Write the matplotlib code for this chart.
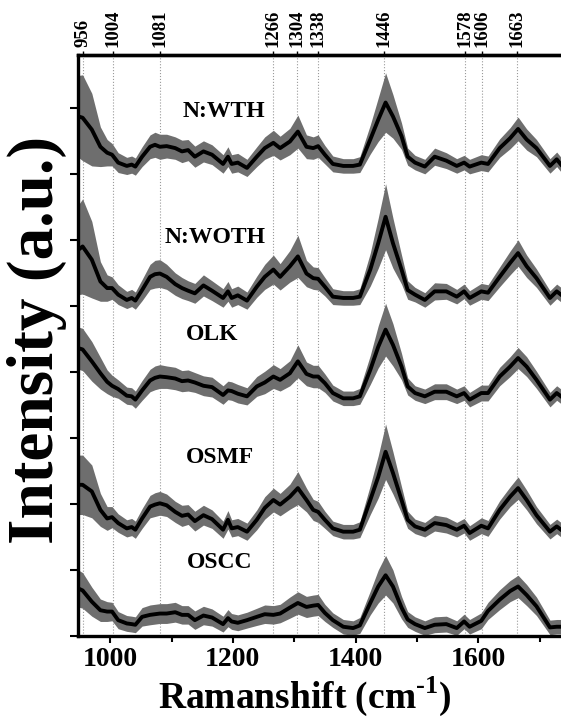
import numpy as np
import matplotlib
matplotlib.use("Agg")
import matplotlib.pyplot as plt

plt.rcParams['font.family'] = ['Liberation Serif', 'DejaVu Serif']
plt.rcParams['font.weight'] = 'bold'
plt.rcParams['mathtext.fontset'] = 'custom'
plt.rcParams['mathtext.rm'] = 'Liberation Serif:bold'
plt.rcParams['mathtext.bf'] = 'Liberation Serif:bold'

# Raman shift grid (cm-1)
shift = [948, 955, 970, 984, 995, 1003, 1013, 1027, 1035, 1041, 1052, 1065, 1073, 1081,
         1092, 1106, 1117, 1127, 1138, 1152, 1166, 1184, 1192, 1198, 1208, 1223, 1239,
         1252, 1266, 1277, 1293, 1306, 1320, 1331, 1339, 1350, 1363, 1380, 1396, 1407,
         1424, 1437, 1449, 1461, 1475, 1485, 1497, 1513, 1529, 1548, 1565, 1577, 1586,
         1605, 1616, 1635, 1652, 1665, 1679, 1695, 1717, 1728, 1735]

# mean spectra (already offset for stacking)
wth = [7.87, 7.85, 7.67, 7.41, 7.32, 7.29, 7.17, 7.12, 7.14, 7.11, 7.26, 7.41, 7.44, 7.41,
       7.42, 7.39, 7.34, 7.36, 7.26, 7.34, 7.29, 7.15, 7.26, 7.15, 7.17, 7.09, 7.26, 7.39,
       7.47, 7.39, 7.49, 7.64, 7.41, 7.39, 7.42, 7.29, 7.15, 7.12, 7.12, 7.14, 7.52, 7.82,
       8.08, 7.87, 7.57, 7.26, 7.17, 7.11, 7.26, 7.20, 7.12, 7.17, 7.11, 7.17, 7.15, 7.39,
       7.54, 7.68, 7.52, 7.39, 7.12, 7.22, 7.14]
woth = [5.85, 5.90, 5.70, 5.37, 5.27, 5.27, 5.17, 5.09, 5.12, 5.08, 5.24, 5.44, 5.48, 5.49,
        5.44, 5.33, 5.27, 5.23, 5.19, 5.31, 5.23, 5.12, 5.22, 5.12, 5.16, 5.08, 5.29, 5.44,
        5.55, 5.44, 5.60, 5.75, 5.49, 5.42, 5.41, 5.29, 5.14, 5.12, 5.12, 5.14, 5.55, 5.95,
        6.35, 5.95, 5.55, 5.24, 5.17, 5.09, 5.22, 5.22, 5.14, 5.22, 5.12, 5.22, 5.20, 5.44,
        5.65, 5.80, 5.60, 5.42, 5.12, 5.22, 5.17]
olk = [4.36, 4.34, 4.16, 3.98, 3.85, 3.79, 3.74, 3.64, 3.63, 3.58, 3.72, 3.87, 3.91, 3.93,
       3.92, 3.90, 3.86, 3.87, 3.84, 3.79, 3.77, 3.65, 3.72, 3.71, 3.67, 3.63, 3.78, 3.84,
       3.93, 3.88, 3.98, 4.16, 3.97, 3.93, 3.93, 3.83, 3.68, 3.60, 3.60, 3.63, 4.03, 4.38,
       4.64, 4.41, 4.08, 3.78, 3.68, 3.63, 3.70, 3.70, 3.63, 3.68, 3.58, 3.68, 3.68, 3.93,
       4.08, 4.21, 4.08, 3.88, 3.58, 3.68, 3.63]
osmf = [2.29, 2.29, 2.19, 1.91, 1.78, 1.80, 1.71, 1.63, 1.65, 1.61, 1.78, 1.96, 1.99, 2.01,
        1.98, 1.88, 1.82, 1.84, 1.74, 1.83, 1.77, 1.61, 1.76, 1.63, 1.65, 1.58, 1.76, 1.94,
        2.06, 1.99, 2.11, 2.24, 2.06, 1.91, 1.88, 1.76, 1.63, 1.58, 1.58, 1.61, 2.06, 2.41,
        2.79, 2.47, 2.06, 1.76, 1.66, 1.61, 1.71, 1.68, 1.61, 1.67, 1.56, 1.67, 1.63, 1.91,
        2.11, 2.24, 2.06, 1.83, 1.58, 1.66, 1.61]
oscc = [0.72, 0.69, 0.52, 0.39, 0.37, 0.37, 0.24, 0.19, 0.18, 0.17, 0.29, 0.32, 0.33, 0.34,
        0.34, 0.36, 0.32, 0.32, 0.24, 0.31, 0.28, 0.18, 0.27, 0.22, 0.20, 0.24, 0.29, 0.33,
        0.32, 0.34, 0.43, 0.50, 0.44, 0.46, 0.47, 0.35, 0.24, 0.14, 0.12, 0.16, 0.50, 0.75,
        0.92, 0.75, 0.43, 0.25, 0.18, 0.12, 0.17, 0.18, 0.12, 0.22, 0.14, 0.23, 0.38, 0.55,
        0.68, 0.75, 0.62, 0.45, 0.13, 0.14, 0.14]

# standard deviations
sd_wth = [0.62, 0.65, 0.55, 0.30, 0.20, 0.17, 0.15, 0.13, 0.13, 0.13, 0.15, 0.18, 0.19, 0.19,
          0.18, 0.17, 0.17, 0.16, 0.16, 0.16, 0.15, 0.14, 0.15, 0.14, 0.14, 0.13, 0.15, 0.17,
          0.19, 0.18, 0.20, 0.25, 0.18, 0.17, 0.17, 0.14, 0.12, 0.11, 0.11, 0.12, 0.22, 0.33,
          0.45, 0.33, 0.20, 0.13, 0.11, 0.11, 0.13, 0.12, 0.11, 0.11, 0.11, 0.12, 0.12, 0.14,
          0.16, 0.18, 0.16, 0.13, 0.11, 0.11, 0.11]
sd_woth = [0.68, 0.72, 0.58, 0.30, 0.20, 0.17, 0.15, 0.13, 0.13, 0.13, 0.16, 0.19, 0.21, 0.21,
           0.19, 0.17, 0.16, 0.15, 0.15, 0.16, 0.15, 0.14, 0.15, 0.14, 0.14, 0.13, 0.16, 0.19,
           0.22, 0.20, 0.24, 0.32, 0.20, 0.17, 0.17, 0.14, 0.12, 0.11, 0.11, 0.12, 0.25, 0.38,
           0.50, 0.38, 0.22, 0.14, 0.11, 0.11, 0.13, 0.12, 0.11, 0.11, 0.11, 0.12, 0.12, 0.15,
           0.18, 0.20, 0.17, 0.14, 0.11, 0.11, 0.11]
sd_olk = [0.32, 0.32, 0.30, 0.24, 0.18, 0.16, 0.14, 0.13, 0.13, 0.13, 0.15, 0.17, 0.18, 0.18,
          0.17, 0.17, 0.16, 0.16, 0.15, 0.15, 0.15, 0.14, 0.14, 0.14, 0.14, 0.13, 0.15, 0.17,
          0.18, 0.17, 0.19, 0.25, 0.18, 0.17, 0.17, 0.14, 0.12, 0.11, 0.11, 0.12, 0.22, 0.32,
          0.40, 0.32, 0.20, 0.13, 0.11, 0.11, 0.12, 0.12, 0.11, 0.11, 0.11, 0.12, 0.12, 0.14,
          0.15, 0.16, 0.15, 0.13, 0.11, 0.11, 0.11]
sd_osmf = [0.45, 0.45, 0.40, 0.25, 0.18, 0.16, 0.14, 0.13, 0.13, 0.13, 0.15, 0.17, 0.18, 0.18,
           0.17, 0.16, 0.16, 0.15, 0.15, 0.15, 0.14, 0.13, 0.14, 0.13, 0.13, 0.13, 0.15, 0.17,
           0.18, 0.17, 0.19, 0.25, 0.18, 0.16, 0.16, 0.13, 0.11, 0.11, 0.11, 0.12, 0.22, 0.32,
           0.42, 0.32, 0.20, 0.13, 0.11, 0.11, 0.12, 0.12, 0.11, 0.11, 0.11, 0.12, 0.12, 0.14,
           0.15, 0.17, 0.15, 0.13, 0.11, 0.11, 0.11]
sd_oscc = [0.28, 0.27, 0.22, 0.17, 0.15, 0.14, 0.13, 0.12, 0.12, 0.12, 0.14, 0.15, 0.15, 0.15,
           0.15, 0.15, 0.14, 0.14, 0.14, 0.14, 0.13, 0.12, 0.13, 0.12, 0.12, 0.12, 0.13, 0.14,
           0.14, 0.14, 0.16, 0.17, 0.16, 0.16, 0.16, 0.13, 0.11, 0.11, 0.11, 0.12, 0.18, 0.25,
           0.30, 0.25, 0.17, 0.12, 0.11, 0.11, 0.12, 0.12, 0.11, 0.11, 0.11, 0.12, 0.13, 0.15,
           0.16, 0.17, 0.16, 0.14, 0.11, 0.11, 0.11]

groups = ['N:WTH', 'N:WOTH', 'OLK', 'OSMF', 'OSCC']
means = [wth, woth, olk, osmf, oscc]
sds = [sd_wth, sd_woth, sd_olk, sd_osmf, sd_oscc]
label_x = [1186, 1171, 1166, 1179, 1179]
label_y = [7.94, 6.03, 4.56, 2.71, 1.11]

peaks = [956, 1004, 1081, 1266, 1304, 1338, 1446, 1578, 1606, 1663]

fig = plt.figure(figsize=(5.61, 7.21), dpi=100)
ax = fig.add_axes([0.1396, 0.1179, 0.8604, 0.8058])

x = np.array(shift)
for name, m, s, lx, ly in zip(groups, means, sds, label_x, label_y):
    m = np.array(m)
    s = np.array(s)
    ax.fill_between(x, m - s, m + s, color='#6e6e6e', lw=0, zorder=2)
    ax.plot(x, m, color='black', lw=2.8, zorder=3)
    ax.text(lx, ly, name, ha='center', va='center', fontsize=17, fontweight='bold')

for p in peaks:
    ax.axvline(p, color='#9a9a9a', ls=':', lw=0.8, zorder=1)

ax.set_xlim(948, 1735)
ax.set_ylim(0, 8.8)
ax.set_yticks(range(0, 9))
ax.set_yticklabels([])
ax.set_xticks([1000, 1200, 1400, 1600])
ax.set_xticks([1100, 1300, 1500, 1700], minor=True)
ax.tick_params(axis='x', which='major', direction='out', length=5, width=1.5, labelsize=20, pad=3)
ax.tick_params(axis='x', which='minor', direction='out', length=4, width=1.5)
ax.tick_params(axis='y', direction='out', length=6, width=1.5)
for side in ['left', 'bottom', 'top']:
    ax.spines[side].set_linewidth(2.4)
ax.spines['right'].set_visible(False)

ax.set_xlabel(r'Ramanshift (cm$^{\text{-1}}$)', fontsize=27, fontweight='bold')
ax.xaxis.set_label_coords(0.47, -0.066)
ax.set_ylabel('Intensity (a.u.)', fontsize=47, fontweight='bold')
ax.yaxis.set_label_coords(-0.024, 0.51)

top = ax.secondary_xaxis('top')
top.set_xticks(peaks)
top.set_xticklabels([str(p) for p in peaks], rotation=90, fontsize=13.5, fontweight='bold')
top.tick_params(direction='out', length=3, width=1, pad=3)
top.spines['top'].set_linewidth(2.4)

fig.savefig('out.png', dpi=100)
